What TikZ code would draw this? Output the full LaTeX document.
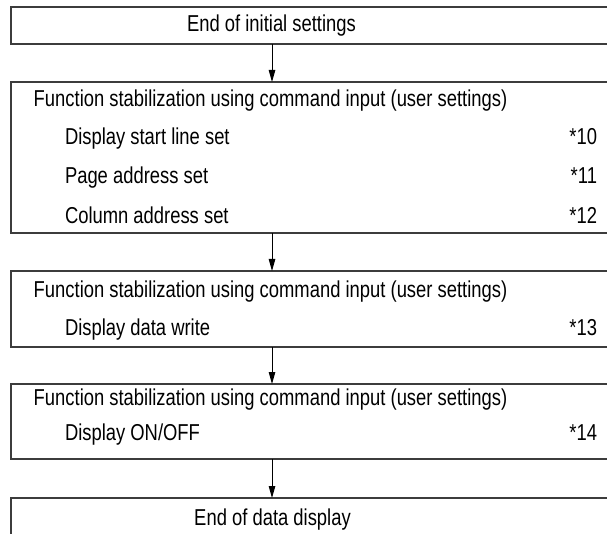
\documentclass[tikz,border=0pt]{standalone}
\usepackage{fontspec}
\setmainfont[FakeStretch=0.80]{Liberation Sans}
\usetikzlibrary{arrows.meta}
\begin{document}
\begin{tikzpicture}[x=1pt,y=1pt,
  box/.style={draw=drawColor,line width=1.1pt,rectangle,inner sep=0pt,outer sep=0pt,anchor=north west,minimum width=640pt},
  txt/.style={text=textColor,inner sep=0pt,outer sep=0pt,font=\fontsize{23}{28}\selectfont},
  arr/.style={draw=textColor,line width=1.0pt,-{Triangle[length=12pt,width=6.5pt]}}]
\definecolor{drawColor}{RGB}{60,60,60}
\definecolor{textColor}{RGB}{0,0,0}
\path[use as bounding box] (0,0) rectangle (607,533);
\clip (0,0) rectangle (607,533);

% boxes
\node[box,minimum height= 37pt] (endInit)  at ( 11.00,526.00) {};
\node[box,minimum height=151pt] (funcSet)  at ( 11.00,451.00) {};
\node[box,minimum height= 76pt] (funcData) at ( 11.00,262.00) {};
\node[box,minimum height= 75pt] (funcDisp) at ( 11.00,149.00) {};
\node[box,minimum height= 60pt] (endData)  at ( 11.00, 35.00) {};

\coordinate (flowX) at (272.00,0);

% texts
\node[txt,anchor=base] (endInitTxt) at (271.50,501.00) {End of initial settings};

\node[txt,anchor=base] (funcSetTxt) at (270.50,426.00) {Function stabilization using command input (user settings)};
\node[txt,anchor=base west] (startLine) at ( 65.00,388.00) {Display start line set};
\node[txt,anchor=base west] (pageAddr)  at ( 65.00,349.00) {Page address set};
\node[txt,anchor=base west] (colAddr)   at ( 65.00,309.00) {Column address set};
\node[txt,anchor=base east] (noteTen)    at (597.00,388.00) {*10};
\node[txt,anchor=base east] (noteEleven) at (597.00,349.00) {*11};
\node[txt,anchor=base east] (noteTwelve) at (597.00,309.00) {*12};

\node[txt,anchor=base] (funcDataTxt) at (270.50,235.00) {Function stabilization using command input (user settings)};
\node[txt,anchor=base west] (dataWrite) at ( 65.00,197.00) {Display data write};
\node[txt,anchor=base east] (noteThirteen) at (597.00,197.00) {*13};

\node[txt,anchor=base] (funcDispTxt) at (270.50,128.00) {Function stabilization using command input (user settings)};
\node[txt,anchor=base west] (dispOnOff) at ( 65.00, 93.00) {Display ON/OFF};
\node[txt,anchor=base east] (noteFourteen) at (597.00, 93.00) {*14};

\node[txt,anchor=base] (endDataTxt) at (272.50,  8.00) {End of data display};

% connectors
\draw[arr] (endInit.south -| flowX)  -- (funcSet.north -| flowX);
\draw[arr] (funcSet.south -| flowX)  -- (funcData.north -| flowX);
\draw[arr] (funcData.south -| flowX) -- (funcDisp.north -| flowX);
\draw[arr] (funcDisp.south -| flowX) -- (endData.north -| flowX);
\end{tikzpicture}
\end{document}
